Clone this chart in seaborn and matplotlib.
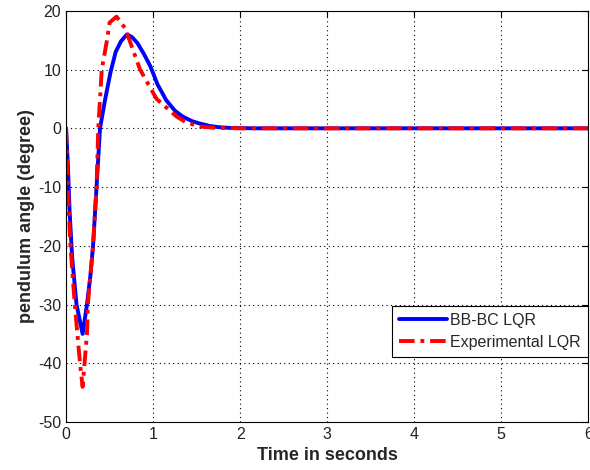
import matplotlib
matplotlib.use("Agg")
import matplotlib.pyplot as plt
import seaborn as sns
import pandas as pd

t_bbbc = [0, 0.02, 0.04, 0.07, 0.12, 0.19, 0.24, 0.28, 0.31, 0.35, 0.39, 0.45, 0.51, 0.57, 0.63,
          0.70, 0.76, 0.82, 0.9, 0.97, 1.05, 1.15, 1.25, 1.34, 1.45, 1.54, 1.65, 1.75, 1.9, 2.2, 6.0]
y_bbbc = [0, -6, -14, -22, -30, -35, -30, -25, -20, -10, 0, 5, 9.5, 13, 14.8,
          16, 15.5, 14.5, 12.5, 10.5, 7.5, 4.8, 3, 2, 1.2, 0.8, 0.4, 0.2, 0.05, 0, 0]

t_exp = [0, 0.02, 0.05, 0.10, 0.16, 0.19, 0.24, 0.25, 0.31, 0.35, 0.37, 0.41, 0.47, 0.50, 0.58,
         0.68, 0.85, 1.04, 1.27, 1.38, 1.54, 1.7, 2.0, 6.0]
y_exp = [0, -10, -20, -30, -40, -44, -35, -30, -20, -10, 0, 10, 15, 18, 19,
         17, 10, 5, 2, 1, 0.3, 0.1, 0, 0]

labels = ["BB-BC LQR", "Experimental LQR"]

sns.set_style("white")
plt.rcParams['font.family'] = ['Liberation Sans', 'DejaVu Sans']
plt.rcParams['axes.unicode_minus'] = False

fig = plt.figure(figsize=(5.9, 4.7), dpi=100)
ax = fig.add_axes([0.112, 0.102, 0.885, 0.875])

sns.lineplot(x=t_bbbc, y=y_bbbc, ax=ax, color="#0000ff", linewidth=2.8, label=labels[0],
             sort=False, estimator=None)
sns.lineplot(x=t_exp, y=y_exp, ax=ax, color="#ff0000", linewidth=2.8, label=labels[1],
             sort=False, estimator=None, linestyle=(0, (4, 1.5, 1, 1.5)))

ax.set_xlim(0, 6)
ax.set_ylim(-50, 20)
ax.set_xticks(range(0, 7))
ax.set_yticks(range(-50, 21, 10))
ax.grid(True, linestyle=(0, (1, 3)), color="black", linewidth=0.8)
ax.tick_params(direction="in", top=True, right=True, length=4, labelsize=11.5, color="black",
               labelcolor="#222222")
for s in ax.spines.values():
    s.set_color("black")
    s.set_linewidth(0.8)

ax.set_xlabel("Time in seconds", fontsize=13, fontweight="bold", labelpad=4)
ax.set_ylabel("pendulum angle (degree)", fontsize=13, fontweight="bold", labelpad=2)

leg = ax.legend(loc="upper right", bbox_to_anchor=(1.0, 0.283), fontsize=11.5, frameon=True,
                fancybox=False, edgecolor="black", framealpha=1, borderpad=0.45,
                handlelength=3.0, handletextpad=0.2, labelspacing=0.45, borderaxespad=0)
leg.get_frame().set_linewidth(0.8)

fig.savefig("out.png", dpi=100)
